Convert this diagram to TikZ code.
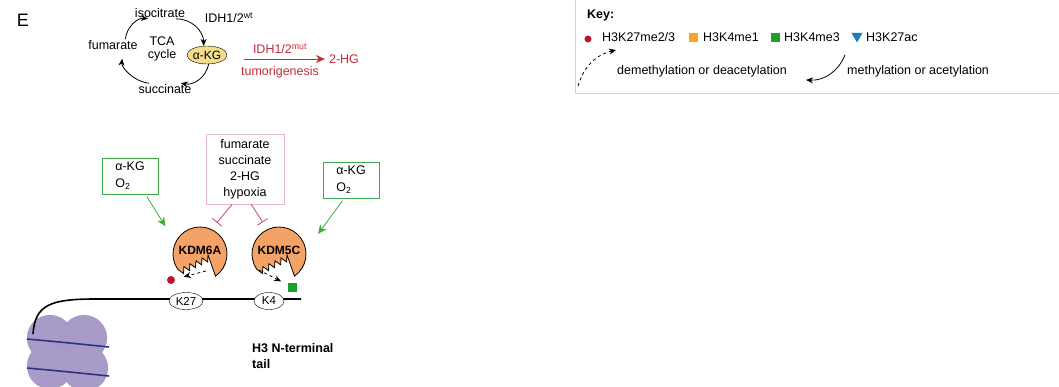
\documentclass[tikz,border=0pt]{standalone}
\usepackage{fontspec}
\setmainfont{Liberation Sans}
\usetikzlibrary{arrows.meta,shapes.geometric}

\definecolor{tcared}{HTML}{C62A3A}
\definecolor{kgyellow}{HTML}{F4DD8C}
\definecolor{boxgreen}{HTML}{3EA84A}
\definecolor{arrgreen}{HTML}{36B03A}
\definecolor{inhpink}{HTML}{EBB7C1}
\definecolor{inhred}{HTML}{C64A5E}
\definecolor{kdmorange}{HTML}{F5A266}
\definecolor{histone}{HTML}{A99BC8}
\definecolor{dnablue}{HTML}{2D3383}
\definecolor{markred}{HTML}{C0142A}
\definecolor{markorange}{HTML}{F5A623}
\definecolor{markgreen}{HTML}{1E9E2E}
\definecolor{markblue}{HTML}{1F7BC0}

\tikzstyle{lbl}=[inner sep=1pt,font=\fontsize{12.5}{16}\selectfont]
\tikzstyle{bold}=[inner sep=1pt,font=\fontsize{12.5}{16}\selectfont\bfseries]
\tikzstyle{cyc} = [draw,thick,-{Stealth[length=7pt,width=6pt]},bend left=45]
\tikzstyle{akgnode}=[ellipse,draw,fill=kgyellow,minimum width=35pt,minimum height=18pt,inner sep=0pt,font=\fontsize{12}{14}\selectfont]
\tikzstyle{cofactor}=[draw=boxgreen,thick,align=left,minimum width=56pt,minimum height=36pt,font=\fontsize{12.5}{17}\selectfont]
\tikzstyle{inhbox}=[draw=inhpink,thick,align=center,minimum width=78pt,minimum height=70pt,font=\fontsize{12.5}{16}\selectfont]
\tikzstyle{feed} = [draw=arrgreen,thick,-{Stealth[length=9pt,width=8pt]}]
\tikzstyle{inhibit} = [draw=inhred,thick,-{Bar[width=12pt]}]
\tikzstyle{enz}=[circle,minimum size=54pt,inner sep=0pt,font=\fontsize{12}{14}\selectfont\bfseries]
\tikzstyle{lys}=[ellipse,draw,fill=white,minimum width=34pt,minimum height=17pt,inner sep=0pt,font=\fontsize{11.5}{13}\selectfont]
\tikzstyle{dashedarrow} = [draw,thick,dashed,-{Stealth[length=7pt,width=6pt]}]

\begin{document}
\begin{tikzpicture}[x=1pt,y=-1pt]
	\useasboundingbox (0,0) rectangle (1059,386);
	\node[font=\fontsize{18}{18}\selectfont] (panel) at (23,20) {E};

	% TCA cycle
	\node[lbl] (iso) at (160,13) {isocitrate};
	\node[lbl] (fum) at (113,45) {fumarate};
	\node[lbl,align=center,font=\fontsize{12.5}{13}\selectfont] (tca) at (162,49) {TCA\\cycle};
	\node[lbl] (suc) at (165,89) {succinate};
	\node[akgnode] (akg) at (207,55) {α-KG};
	\node[lbl] (wt) at (229,18) {IDH1/2\textsuperscript{wt}};
	\draw[cyc,shorten >=2pt] (fum.25) to (iso.210);
	\draw[cyc] (iso.-20) to (akg.110);
	\draw[cyc] (akg.-80) to (suc.20);
	\draw[cyc,shorten >=8pt] (suc.160) to (fum.-30);

	% mutant IDH branch
	\node[lbl,text=tcared] (mut) at (280,49) {IDH1/2\textsuperscript{mut}};
	\node[lbl,text=tcared] (tum) at (280,72) {tumorigenesis};
	\node[lbl,text=tcared] (hg) at (344,59) {2-HG};
	\draw[draw=tcared,thick,-{Stealth[length=9pt,width=8pt]},shorten <=17pt,shorten >=3pt] (akg.east |- hg.west) -- (hg.west);

	% key
	\draw[gray!35] (575,-1) -- (575,93) -- (1060,93);
	\node[bold,anchor=west] (key) at (586,15) {Key:};
	\node[circle,fill=markred,minimum size=7pt,inner sep=0pt] (kme23) at (588,39) {};
	\node[lbl,anchor=west] (kme23t) at (601,37) {H3K27me2/3};
	\node[fill=markorange,minimum size=9pt,inner sep=0pt] (kme1) at (693,37) {};
	\node[lbl,anchor=west] (kme1t) at (702,37) {H3K4me1};
	\node[fill=markgreen,minimum size=9pt,inner sep=0pt] (kme3) at (775,37) {};
	\node[lbl,anchor=west] (kme3t) at (783,37) {H3K4me3};
	\node[regular polygon,regular polygon sides=3,shape border rotate=180,fill=markblue,minimum size=13pt,inner sep=0pt] (kac) at (857,36) {};
	\node[lbl,anchor=west] (kact) at (865,37) {H3K27ac};
	\node[lbl,anchor=west] (demeth) at (616,71) {demethylation or deacetylation};
	\node[lbl,anchor=west] (meth) at (846,71) {methylation or acetylation};
	\coordinate (dmfrom) at (578,86);
	\coordinate (dmto) at (616,50);
	\coordinate (mfrom) at (845,55);
	\coordinate (mto) at (806,80);
	\draw[dashedarrow] (dmfrom) to[bend left=30] (dmto);
	\draw[thick,-{Stealth[length=7pt,width=6pt]}] (mfrom) to[bend left=35] (mto);

	% cofactors and inhibitors
	\node[cofactor] (lbox) at (130,176) {α-KG\\O\textsubscript{2}};
	\node[cofactor] (rbox) at (351,180) {α-KG\\O\textsubscript{2}};
	\node[inhbox] (inh) at (245,169) {fumarate\\succinate\\2-HG\\hypoxia};

	% demethylases, jagged mouth at the bottom
	\foreach \nm/\cx/\txt in {kdm6a/200/KDM6A, kdm5c/279/KDM5C}{
		\begin{scope}[shift={(\cx,254)},x=1pt,y=1pt]
			\filldraw[fill=kdmorange,draw=black,thick] (-55:27) arc[start angle=-55,end angle=215,radius=27pt]
				-- (-16.5,-19.5) -- (-16.1,-12.6) -- (-10.5,-16.6) -- (-10.1,-9.7) -- (-4.5,-13.7) -- (-4.0,-6.8)
				-- (1.6,-10.8) -- (2.0,-3.9) -- (7.6,-7.9) -- (8,-1) -- cycle;
		\end{scope}
		\node[enz] (\nm) at (\cx,250) {\txt};
	}
	\draw[feed,shorten <=3pt,shorten >=17pt] (lbox.-50) -- (kdm6a.160);
	\draw[feed,shorten <=3pt,shorten >=20pt] (rbox.-110) -- (kdm5c.0);
	\draw[inhibit,shorten >=5pt] (inh.-110) -- (kdm6a.60);
	\draw[inhibit,shorten >=5pt] (inh.-80) -- (kdm5c.120);

	% marks removed from the tail
	\node[circle,fill=markred,minimum size=8pt,inner sep=0pt] (k27me) at (171,280) {};
	\node[fill=markgreen,minimum size=9pt,inner sep=0pt] (k4me) at (292,287) {};
	\coordinate (mouth6a) at (206,271);
	\coordinate (mouth5c) at (259,270);
	\draw[dashedarrow,shorten >=9pt] (mouth6a) -- (k27me);
	\draw[dashedarrow,shorten >=7pt] (mouth5c) -- (k4me);

	% nucleosome
	\foreach \hx/\hy in {50/338, 84/338, 50/366, 85/368}
		\filldraw[fill=histone,draw=histone!80!black,draw opacity=0.25] (\hx,\hy) circle (23);
	\draw[dnablue,line width=1.6pt] (27,339) .. controls (60,342) and (80,344) .. (109,347);
	\draw[dnablue,line width=1.6pt] (27,368) .. controls (60,371) and (80,373) .. (109,376);

	% H3 tail with lysines
	\coordinate (tailstart) at (33,334);
	\coordinate (tailend) at (301,299);
	\draw[line width=1.6pt] (tailstart) .. controls (35,305) and (50,299) .. (95,299) -- (tailend);
	\node[lys] (k27) at (186,301) {K27};
	\node[lys,minimum width=30pt] (k4) at (269,301) {K4};
	\node[bold,anchor=west,align=left] (tailtxt) at (251,356) {H3 N-terminal\\tail};
\end{tikzpicture}
\end{document}
